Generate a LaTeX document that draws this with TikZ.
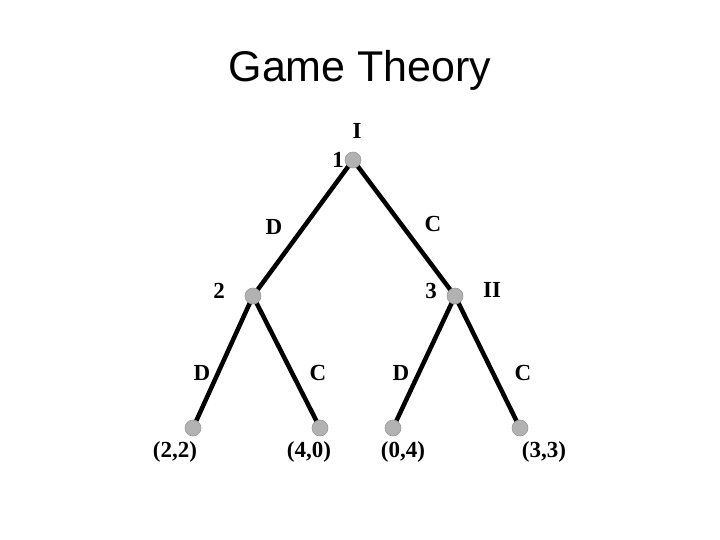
\documentclass[tikz,border=0pt]{standalone}
\usepackage{fontspec}
\setmainfont{Liberation Serif}
\newfontfamily\titlefont{Liberation Sans}
\begin{document}
\begin{tikzpicture}[x=1pt,y=-1pt,
  gnode/.style={circle,fill=black!30,draw=black!40,line width=0.6pt,minimum size=16pt,inner sep=0pt},
  edge/.style={line width=4.5pt,black},
  lab/.style={font=\fontsize{23}{25}\selectfont\bfseries,inner sep=0pt}]
\useasboundingbox (0,0) rectangle (720,540);
\node[font=\titlefont\fontsize{43}{48}\selectfont] (title) at (360,70) {Game Theory};
\coordinate (r) at (353,160);
\coordinate (n2) at (253,296);
\coordinate (n3) at (455,296);
\coordinate (l1) at (193,428);
\coordinate (l2) at (320,428);
\coordinate (l3) at (393,428);
\coordinate (l4) at (520,428);
\draw[edge] (r) -- (n2);
\draw[edge] (r) -- (n3);
\draw[edge] (n2) -- (l1);
\draw[edge] (n2) -- (l2);
\draw[edge] (n3) -- (l3);
\draw[edge] (n3) -- (l4);
\node[gnode] (rn) at (r) {};
\node[gnode] (n2n) at (n2) {};
\node[gnode] (n3n) at (n3) {};
\node[gnode] (l1n) at (l1) {};
\node[gnode] (l2n) at (l2) {};
\node[gnode] (l3n) at (l3) {};
\node[gnode] (l4n) at (l4) {};
\node[lab] (pI) at (357,131) {I};
\node[lab] (k1) at (338,160) {1};
\node[lab] (eD1) at (274,227) {D};
\node[lab] (eC1) at (433,224) {C};
\node[lab] (k2) at (219,291) {2};
\node[lab] (k3) at (431,291) {3};
\node[lab] (pII) at (492,290) {II};
\node[lab] (eD2) at (202,373) {D};
\node[lab] (eC2) at (318,373) {C};
\node[lab] (eD3) at (401,373) {D};
\node[lab] (eC3) at (523,373) {C};
\node[lab] (o1) at (175,452) {(2,2)};
\node[lab] (o2) at (309,452) {(4,0)};
\node[lab] (o3) at (403,452) {(0,4)};
\node[lab] (o4) at (544,452) {(3,3)};
\end{tikzpicture}
\end{document}
